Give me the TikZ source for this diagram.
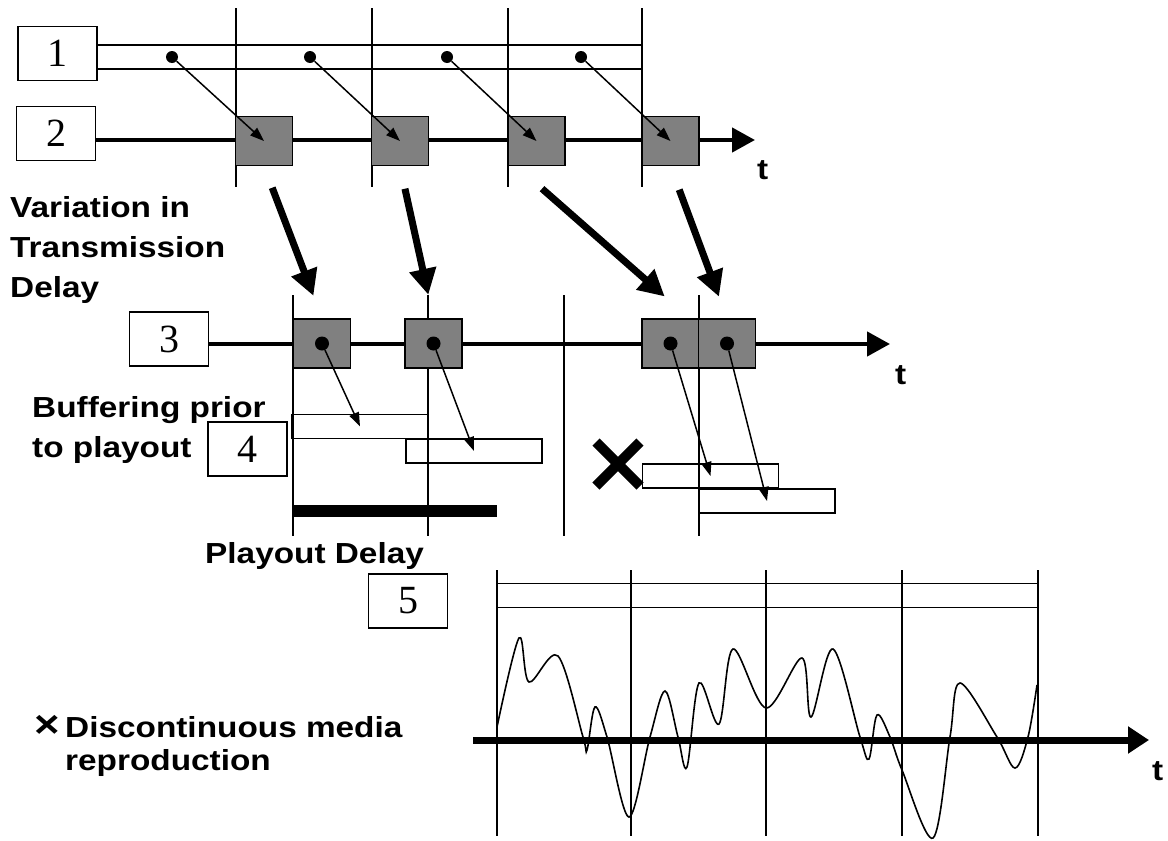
\documentclass[tikz,border=0pt]{standalone}
\usepackage{fontspec}
\setsansfont{Liberation Sans}[FakeStretch=1.15]
\newfontfamily\digitfont{Liberation Serif}
\usepackage{tikz}
\usetikzlibrary{arrows.meta,positioning,calc}
\definecolor{packetgray}{RGB}{128,128,128}

\begin{document}
\begin{tikzpicture}[
    x=1pt, y=-1pt,
    numbox/.style={rectangle, draw, line width=1.5pt, minimum width=79pt,
                   minimum height=54pt, inner sep=0pt,
                   font=\digitfont\fontsize{40}{40}\selectfont},
    packet/.style={rectangle, draw, line width=1.5pt, fill=packetgray,
                   minimum width=57pt, minimum height=49pt, inner sep=0pt},
    slot/.style={rectangle, draw, line width=1.3pt, fill=white,
                 minimum width=136pt, minimum height=24pt, inner sep=0pt},
    band/.style={rectangle, draw, line width=1.5pt, minimum height=24pt,
                 inner sep=0pt},
    dot/.style={circle, fill, inner sep=0pt, minimum size=12pt},
    tick/.style={line width=1.5pt},
    axis/.style={line width=4.5pt, -{Triangle[length=23pt,width=24pt]}},
    hop/.style={line width=1.5pt, -{Triangle[length=14pt,width=10pt]}},
    jump/.style={line width=7pt, -{Triangle[length=26pt,width=26pt]}},
    lbl/.style={font=\sffamily\bfseries\fontsize{29}{40}\selectfont,
                align=left, inner sep=0pt},
]
\useasboundingbox (0,0) rectangle (1168,841);

% Row 1: sending
\node[numbox] (n1) at (57.5,53.5) {1};
\node[band, minimum width=545pt] (send) at (369.5,57) {};
\foreach \x in {236,372,508,642}
    \draw[tick] (\x,8) -- (\x,187);

% Row 2: network
\node[numbox] (n2) at (56,133.5) {2};
\coordinate (net end) at (755,140);
\draw[axis] (n2.east |- net end) -- (net end);
\node[lbl, below right=20pt and 2pt of net end] (t2) {t};
\foreach \i/\x in {1/264,2/400,3/536.5,4/670.5}
    \node[packet] (p\i) at (\x,141) {};
\foreach \i/\x in {1/172,2/310,3/447,4/581} {
    \node[dot] (s\i) at (\x,57) {};
    \draw[hop] (s\i) -- (p\i.center);
}

% Row 3: receiving
\node[numbox] (n3) at (169,339) {3};
\coordinate (recv end) at (890,344);
\draw[axis] (n3.east |- recv end) -- (recv end);
\node[lbl, below right=21pt and 5pt of recv end] (t3) {t};

% Row 4: buffer
\node[numbox] (n4) at (247.5,449) {4};
\node[slot] (b1) at (360,426.5) {};
\node[slot] (b2) at (474,451) {};
\node[slot] (b3) at (710.5,476) {};
\node[slot] (b4) at (767,501) {};
\foreach \x in {293,428,564,699}
    \draw[tick] (\x,295) -- (\x,536);
\foreach \i/\x in {1/322,2/433.5,3/670.5,4/727}
    \node[packet] (q\i) at (\x,343.5) {};
\foreach \i in {1,...,4} {
    \node[dot, minimum size=14pt] (e\i) at (q\i) {};
    \draw[hop] (e\i) -- (b\i.center);
}

% Transmission delay
\draw[jump, shorten <=23pt, shorten >=24pt] (p1.south) -- (q1.north);
\draw[jump, shorten <=23pt, shorten >=24pt] (p2.south) -- (q2.north);
\draw[jump, shorten <=34pt, shorten >=33pt]
    ([xshift=-20pt]p3.south) -- ([xshift=19pt]q3.north);
\draw[jump, shorten <=25pt, shorten >=23pt] (p4.south) -- (q4.north);

% Lost packet
\coordinate (lost) at (618,464);
\draw[line width=10pt] ($(lost)+(-22,-22)$) -- ($(lost)+(22,22)$);
\draw[line width=10pt] ($(lost)+(22,-22)$) -- ($(lost)+(-22,22)$);

% Playout delay
\node[rectangle, fill, minimum width=205pt, minimum height=12pt,
      inner sep=0pt] (hold) at (394.5,511) {};

% Labels
\node[lbl, anchor=base west] (vary) at (10,297)
    {Variation in\\Transmission\\Delay};
\node[lbl, anchor=base west] (buffer) at (32,457)
    {Buffering prior\\to playout};
\node[lbl, anchor=base west] (playout) at (205,563) {Playout Delay};
\node[lbl, anchor=base west,
      font=\sffamily\bfseries\fontsize{29}{33}\selectfont] (broken) at (65,770)
    {\llap{{\fontsize{38}{33}\selectfont ×}\,}Discontinuous media\\reproduction};

% Row 5: playout
\node[numbox] (n5) at (408,601) {5};
\node[band, minimum width=541pt] (play) at (767.5,595.5) {};
\foreach \x in {497,631,766,902,1038}
    \draw[tick] (\x,570) -- (\x,836);
\draw[line width=1.6pt] plot[smooth, tension=0.55] coordinates {
    (497,727) (519,638) (529,682) (558,656) (583,737) (587,750) (595,707)
    (607,737) (629,817) (650,737) (665,691) (678,737) (687,767) (699,683)
    (719,724) (733,649) (766,708) (802,658) (811,717) (833,649) (860,737)
    (869,759) (877,715) (890,737) (902,770) (933,838) (950,737) (960,683)
    (997,737) (1015,768) (1028,737) (1037,685)};
\coordinate (wave start) at (473,740);
\coordinate (wave end) at (1149,740);
\draw[line width=7pt, -{Triangle[length=21pt,width=26pt]}]
    (wave start) -- (wave end);
\node[lbl, below right=21pt and 3pt of wave end] (t5) {t};

\end{tikzpicture}
\end{document}
